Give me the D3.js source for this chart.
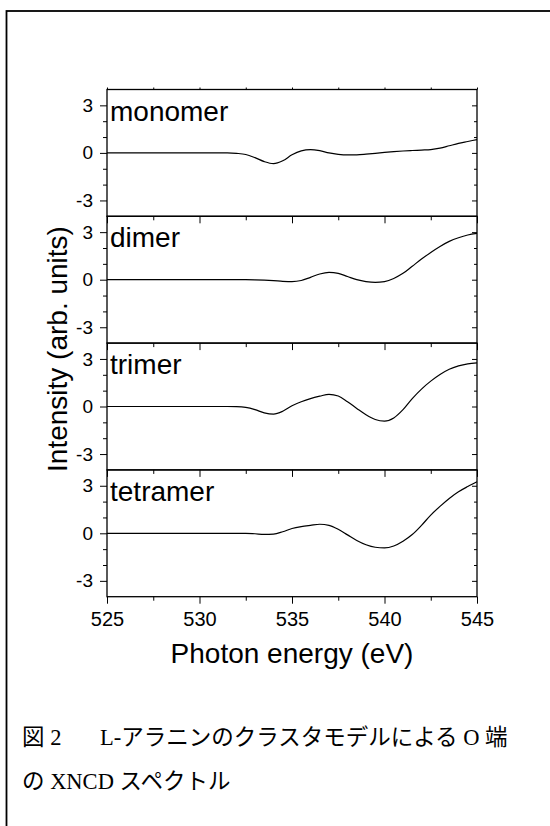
<!DOCTYPE html>
<html>
<head>
<meta charset="utf-8">
<script src="https://cdn.jsdelivr.net/npm/d3@7"></script>
<style>
  body { margin: 0; background: #fff; }
  svg { display: block; }
  text { font-family: Arial, "Liberation Sans", sans-serif; fill: #000; }
</style>
</head>
<body>
<svg id="chart" width="550" height="826"></svg>
<script>
// photon energy grid (eV), shared by all four spectra
var energy = [525, 530, 531.5, 532, 532.5, 533, 533.5, 534, 534.5, 535, 535.5, 536, 536.5, 537, 537.5,
              538, 538.5, 539, 539.5, 540, 540.5, 541, 541.5, 542, 542.5, 543, 543.5, 544, 544.5, 545];

var monomer  = [0, 0, 0, -0.03, -0.1, -0.3, -0.55, -0.68, -0.5, -0.12, 0.13, 0.21, 0.14, 0.0, -0.09,
                -0.13, -0.12, -0.08, -0.03, 0.03, 0.08, 0.12, 0.15, 0.18, 0.21, 0.3, 0.45, 0.6, 0.72, 0.84];
var dimer    = [0, 0, 0, 0, 0, -0.01, -0.03, -0.06, -0.1, -0.12, -0.05, 0.15, 0.36, 0.46, 0.4,
                0.2, 0.0, -0.12, -0.17, -0.12, 0.08, 0.4, 0.85, 1.3, 1.72, 2.1, 2.42, 2.65, 2.82, 2.92];
var trimer   = [0, 0, 0, -0.01, -0.06, -0.2, -0.4, -0.48, -0.3, 0.05, 0.3, 0.5, 0.65, 0.77, 0.66,
                0.3, -0.12, -0.52, -0.82, -0.92, -0.72, -0.2, 0.5, 1.1, 1.6, 2.02, 2.35, 2.56, 2.69, 2.75];
var tetramer = [0, 0, 0, 0, 0, -0.03, -0.07, -0.05, 0.1, 0.3, 0.42, 0.5, 0.57, 0.5, 0.25,
                -0.1, -0.45, -0.72, -0.88, -0.92, -0.8, -0.5, -0.08, 0.5, 1.15, 1.7, 2.2, 2.62, 2.95, 3.25];

var panelNames = ["monomer", "dimer", "trimer", "tetramer"];
var panelSeries = [monomer, dimer, trimer, tetramer];

var xMajor = [525, 530, 535, 540, 545];
var xMinor = [527.5, 532.5, 537.5, 542.5];
var yMajor = [-3, 0, 3];
var yMinor = [-2, -1, 1, 2];

var xTitle = "Photon energy (eV)";
var yTitle = "Intensity (arb. units)";
var captionLine1a = "図 2";
var captionLine1b = "L-アラニンのクラスタモデルによる O 端";
var captionLine2 = "の XNCD スペクトル";

var svg = d3.select("#chart");

// page frame (runs off the right and bottom edges)
svg.append("rect")
    .attr("x", 6.5).attr("y", 11)
    .attr("width", 620).attr("height", 900)
    .attr("fill", "none").attr("stroke", "#000").attr("stroke-width", 1.8);

var plotLeft = 107, plotRight = 477, plotTop = 89.5;
var panelH = 126.8;

var x = d3.scaleLinear().domain([525, 545]).range([plotLeft, plotRight]);
var y = d3.scaleLinear().domain([-4, 4]).range([panelH, 0]);

var line = d3.line()
    .x(function(d) { return x(d[0]); })
    .y(function(d) { return y(d[1]); })
    .curve(d3.curveMonotoneX);

// plain hyphen minus like the original, not the unicode minus sign
var plainNum = function(d) { return String(d); };

function noDomain(g) { g.select(".domain").remove(); }

function styleAxis(g, size) {
    g.attr("font-family", "Arial, 'Liberation Sans', sans-serif").attr("font-size", size);
    g.selectAll("line").attr("stroke", "#000").attr("stroke-width", 1);
}

panelNames.forEach(function(name, i) {
    var last = i === panelNames.length - 1;
    var g = svg.append("g").attr("transform", "translate(0," + (plotTop + i * panelH) + ")");

    // left ticks (outside)
    g.append("g").attr("transform", "translate(" + plotLeft + ",0)")
        .call(d3.axisLeft(y).tickValues(yMinor).tickSize(4).tickFormat(""))
        .call(noDomain).call(styleAxis, 19);
    g.append("g").attr("transform", "translate(" + plotLeft + ",0)")
        .call(d3.axisLeft(y).tickValues(yMajor).tickSize(7).tickPadding(7).tickFormat(plainNum))
        .call(noDomain).call(styleAxis, 19);

    // right ticks (inside)
    g.append("g").attr("transform", "translate(" + plotRight + ",0)")
        .call(d3.axisRight(y).tickValues(yMinor).tickSize(-3).tickFormat(""))
        .call(noDomain).call(styleAxis, 19);
    g.append("g").attr("transform", "translate(" + plotRight + ",0)")
        .call(d3.axisRight(y).tickValues(yMajor).tickSize(-5).tickFormat(""))
        .call(noDomain).call(styleAxis, 19);

    // bottom ticks (outside, down into the next panel)
    g.append("g").attr("transform", "translate(0," + panelH + ")")
        .call(d3.axisBottom(x).tickValues(xMinor).tickSize(4).tickFormat(""))
        .call(noDomain).call(styleAxis, 20);
    g.append("g").attr("transform", "translate(0," + panelH + ")")
        .call(d3.axisBottom(x).tickValues(xMajor).tickSize(7).tickPadding(8)
            .tickFormat(last ? plainNum : ""))
        .call(noDomain).call(styleAxis, 20);

    if (i === 0) {
        g.append("g")
            .call(d3.axisTop(x).tickValues(xMajor.concat(xMinor)).tickSize(2).tickFormat(""))
            .call(noDomain).call(styleAxis, 20);
    }

    // spectrum
    var pts = energy.map(function(e, k) { return [e, panelSeries[i][k]]; });
    g.append("path")
        .datum(pts)
        .attr("d", line)
        .attr("fill", "none")
        .attr("stroke", "#000")
        .attr("stroke-width", 1.2);

    // panel frame
    g.append("rect")
        .attr("x", plotLeft).attr("y", 0)
        .attr("width", plotRight - plotLeft).attr("height", panelH)
        .attr("fill", "none").attr("stroke", "#000").attr("stroke-width", 1.3);

    g.append("text")
        .attr("x", plotLeft + 3).attr("y", 31)
        .attr("font-size", 28)
        .text(name);
});

svg.append("text")
    .attr("x", (plotLeft + plotRight) / 2).attr("y", 663)
    .attr("text-anchor", "middle").attr("font-size", 28)
    .text(xTitle);

svg.append("text")
    .attr("transform", "translate(67," + 349 + ") rotate(-90)")
    .attr("text-anchor", "middle").attr("font-size", 28)
    .text(yTitle);

// caption
var cap = svg.append("g")
    .style("font-family", "'Liberation Serif', 'Noto Sans CJK JP', serif")
    .attr("font-size", 22.5);
cap.append("text").style("font-family", "inherit").attr("x", 22).attr("y", 745).text(captionLine1a);
cap.append("text").style("font-family", "inherit").attr("x", 100).attr("y", 745).text(captionLine1b);
cap.append("text").style("font-family", "inherit").attr("x", 22).attr("y", 789).text(captionLine2);
</script>
</body>
</html>
